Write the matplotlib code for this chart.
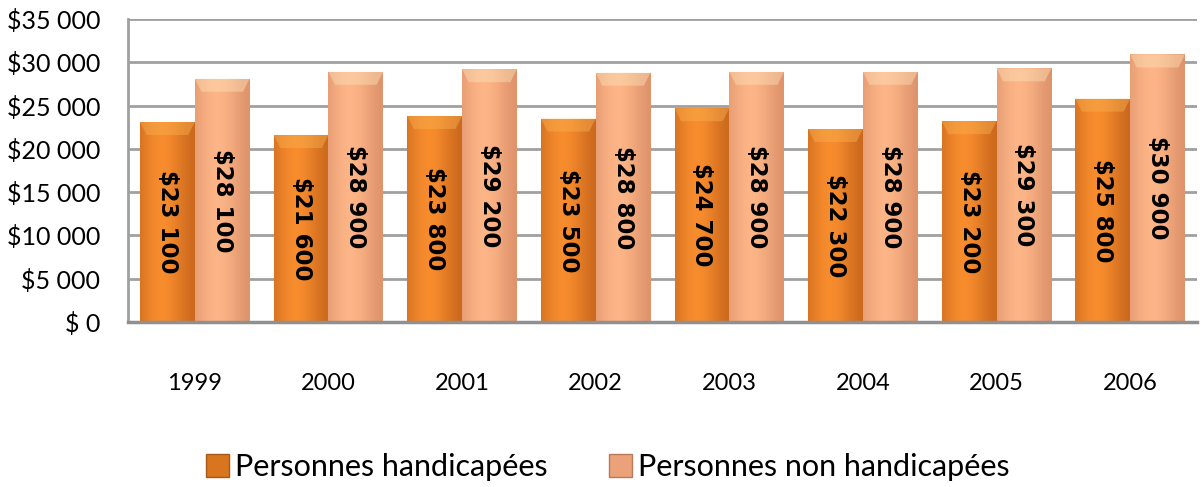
import numpy as np
import matplotlib.pyplot as plt
from matplotlib.patches import Patch, Polygon

years = ['1999', '2000', '2001', '2002', '2003', '2004', '2005', '2006']
handicap = [23100, 21600, 23800, 23500, 24700, 22300, 23200, 25800]
non_handicap = [28100, 28900, 29200, 28800, 28900, 28900, 29300, 30900]
series_names = ['Personnes handicapées', 'Personnes non handicapées']
yticks = [0, 5000, 10000, 15000, 20000, 25000, 30000, 35000]

plt.rcParams['font.family'] = ['Lato', 'DejaVu Sans']


def fmt(v):
    if v == 0:
        return '$ 0'
    s = f'{v:,}'.replace(',', ' ')
    return '$' + s


def gradient_bars(ax, bars, dark, light, top):
    # horizontal shading, lighter near the left-middle, darker at the edges
    t = np.linspace(0, 1, 64)
    w = np.exp(-((t - 0.4) / 0.45) ** 2)
    cols = np.array(dark)[None, :] * (1 - w[:, None]) + np.array(light)[None, :] * w[:, None]
    img = cols[None, :, :]
    for b in bars:
        x0, y0 = b.get_x(), b.get_y()
        x1, y1 = x0 + b.get_width(), y0 + b.get_height()
        im = ax.imshow(img, extent=[x0, x1, y0, y1], aspect='auto', zorder=3,
                       interpolation='bilinear')
        im.set_clip_path(b)
        b.set_facecolor('none')
        # bevel highlight along the top
        inset = b.get_width() * 0.12
        bev = Polygon([(x0, y1), (x1, y1), (x1 - inset, y1 - 1500), (x0 + inset, y1 - 1500)],
                      closed=True, facecolor=top, edgecolor='none', alpha=0.45, zorder=3.5)
        ax.add_patch(bev)


fig = plt.figure(figsize=(12.04, 4.87), dpi=100)
ax = fig.add_axes([128 / 1204, 1 - 322 / 487, (1197 - 128) / 1204, (322 - 19) / 487])

x = np.arange(len(years))
bw = 0.41
b1 = ax.bar(x - bw / 2, handicap, bw, color='#E07A22', edgecolor='none', zorder=3)
b2 = ax.bar(x + bw / 2, non_handicap, bw, color='#F4AC84', edgecolor='none', zorder=3)

gradient_bars(ax, b1, (0.76, 0.38, 0.10), (0.97, 0.55, 0.18), '#F8B050')
gradient_bars(ax, b2, (0.85, 0.55, 0.40), (0.99, 0.71, 0.53), '#FCE0B8')

for bars, vals in ((b1, handicap), (b2, non_handicap)):
    for b, v in zip(bars, vals):
        ax.text(b.get_x() + b.get_width() / 2, v / 2, fmt(v), rotation=270,
                ha='center', va='center', fontsize=16.5, fontweight='bold',
                family=['DejaVu Sans'], color='black', zorder=5)

ax.set_xlim(-0.5, len(years) - 0.5)
ax.set_ylim(0, 35000)
ax.set_yticks(yticks)
ax.set_yticklabels([fmt(v) for v in yticks], fontsize=18)
ax.set_xticks(x)
ax.set_xticklabels(years, fontsize=17)
ax.tick_params(axis='y', length=0, pad=20)
ax.tick_params(axis='x', length=0, pad=37)
ax.yaxis.grid(True, color='#A0A0A0', linewidth=2)
ax.set_axisbelow(True)
for s in ('top', 'right'):
    ax.spines[s].set_visible(False)
ax.spines['left'].set_color('#A0A0A0')
ax.spines['left'].set_linewidth(2)
ax.spines['bottom'].set_color('#909090')
ax.spines['bottom'].set_linewidth(2.5)
ax.spines['bottom'].set_zorder(4)

handles = [Patch(facecolor='#D9751F', edgecolor='#A85A18'),
           Patch(facecolor='#EBA27A', edgecolor='#B87A5A')]
fig.legend(handles, series_names, loc='center', bbox_to_anchor=(608 / 1204, 1 - 467 / 487),
           ncol=2, frameon=False, fontsize=22, handlelength=0.75, handleheight=0.75,
           handletextpad=0.2, columnspacing=2.0)

fig.savefig('out.png', dpi=100)
